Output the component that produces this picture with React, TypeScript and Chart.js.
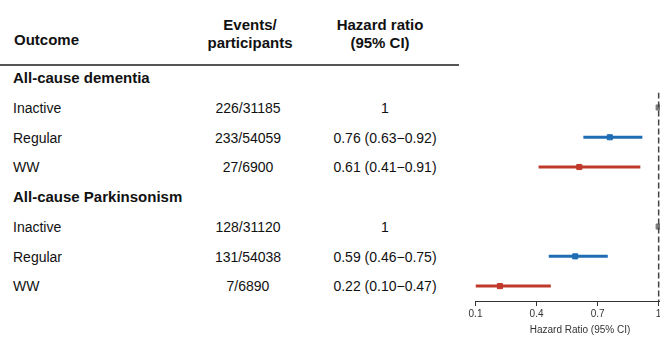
import React, { useEffect, useRef } from "react";
import { Chart, registerables } from "chart.js";

Chart.register(...registerables);

// ---- data ----
const groupNames = ["All-cause dementia", "All-cause Parkinsonism"];
const groupRows = [0, 4];
const rowLabels = ["Inactive", "Regular", "WW", "Inactive", "Regular", "WW"];
const rowPositions = [1, 2, 3, 5, 6, 7];
const eventsText = ["226/31185", "233/54059", "27/6900", "128/31120", "131/54038", "7/6890"];
const hrText = ["1", "0.76 (0.63\u22120.92)", "0.61 (0.41\u22120.91)", "1", "0.59 (0.46\u22120.75)", "0.22 (0.10\u22120.47)"];
const hrValue = [1, 0.76, 0.61, 1, 0.59, 0.22];
const hrLower = [1, 0.63, 0.41, 1, 0.46, 0.1];
const hrUpper = [1, 0.92, 0.91, 1, 0.75, 0.47];
const tickValues = [0.1, 0.4, 0.7, 1];
const tickLabels = ["0.1", "0.4", "0.7", "1"];
const referenceHR = 1;

const colorFor: Record<string, string> = {
  Inactive: "#7b7b7b",
  Regular: "#1f6db4",
  WW: "#c03a2b",
};

const FONT = "'Liberation Sans', Arial, Helvetica, sans-serif";
const ROW_SPACING = 29.75;
const ROW0_Y = 78;

function rowY(pos: number) {
  return ROW0_Y + pos * ROW_SPACING;
}

function Text(props: {
  text: string;
  x: number;
  y: number;
  align?: "left" | "center";
  bold?: boolean;
  size?: number;
}) {
  const { text, x, y, align = "left", bold = false, size = 14 } = props;
  const lh = 20;
  const style: React.CSSProperties = {
    position: "absolute",
    top: y - lh / 2,
    lineHeight: lh + "px",
    height: lh,
    fontFamily: FONT,
    fontSize: size,
    fontWeight: bold ? 700 : 400,
    color: "#111",
    whiteSpace: "nowrap",
  };
  if (align === "center") {
    style.left = x - 150;
    style.width = 300;
    style.textAlign = "center";
  } else {
    style.left = x;
  }
  return <div style={style}>{text}</div>;
}

export default function App() {
  const canvasRef = useRef<HTMLCanvasElement | null>(null);

  useEffect(() => {
    const canvas = canvasRef.current;
    if (!canvas) return;

    const datasets: any[] = [];
    rowLabels.forEach((label, i) => {
      const c = colorFor[label];
      if (hrLower[i] !== hrUpper[i]) {
        datasets.push({
          type: "line",
          data: [
            { x: hrLower[i], y: rowPositions[i] },
            { x: hrUpper[i], y: rowPositions[i] },
          ],
          borderColor: c,
          borderWidth: 3,
          pointRadius: 0,
          showLine: true,
          order: 2,
        });
      }
      datasets.push({
        type: "scatter",
        data: [{ x: hrValue[i], y: rowPositions[i] }],
        backgroundColor: c,
        borderColor: c,
        borderWidth: 1,
        pointStyle: "rect",
        pointRadius: 3.6,
        order: 1,
      });
    });
    datasets.push({
      type: "line",
      data: [
        { x: referenceHR, y: 0.5 },
        { x: referenceHR, y: 7.5 },
      ],
      borderColor: "#444",
      borderWidth: 1.5,
      borderDash: [6, 3],
      pointRadius: 0,
      showLine: true,
      order: -1,
    });

    const chart = new Chart(canvas, {
      type: "scatter",
      data: { datasets },
      options: {
        animation: false,
        responsive: false,
        devicePixelRatio: 1,
        events: [],
        layout: { padding: { left: 35.5, right: 55.5, top: 92.6, bottom: 0 } },
        plugins: { legend: { display: false }, tooltip: { enabled: false } },
        scales: {
          x: {
            type: "linear",
            min: 0.1,
            max: 1.127,
            afterBuildTicks: (scale: any) => {
              scale.ticks = tickValues.map((v) => ({ value: v }));
            },
            afterFit: (scale: any) => {
              scale.height = 36;
            },
            ticks: {
              autoSkip: false,
              maxRotation: 0,
              padding: 2,
              color: "#333",
              font: { family: FONT, size: 10 },
              callback: (v: any) => {
                const idx = tickValues.findIndex((t) => Math.abs(t - Number(v)) < 1e-9);
                return idx >= 0 ? tickLabels[idx] : "";
              },
            },
            grid: {
              display: true,
              drawOnChartArea: false,
              drawTicks: true,
              tickLength: 5,
              color: "#333",
            },
            border: { display: true, color: "#333", width: 1 },
            title: {
              display: true,
              text: "Hazard Ratio (95% CI)",
              color: "#333",
              font: { family: FONT, size: 10 },
              padding: { top: 0, bottom: 1 },
            },
          },
          y: {
            type: "linear",
            min: 0.5,
            max: 7.5,
            reverse: true,
            display: false,
          },
        },
      },
    });
    return () => chart.destroy();
  }, []);

  return (
    <div
      style={{
        position: "fixed",
        left: 0,
        top: 0,
        width: 660,
        height: 337,
        overflow: "hidden",
        background: "#fff",
      }}
    >
      <Text text="Outcome" x={14} y={40} bold size={15} />
      <Text text="Events/" x={250} y={25} align="center" bold size={15} />
      <Text text="participants" x={250} y={43} align="center" bold size={15} />
      <Text text="Hazard ratio" x={380} y={25} align="center" bold size={15} />
      <Text text="(95% CI)" x={380} y={43} align="center" bold size={15} />
      <div
        style={{
          position: "absolute",
          left: 0,
          top: 64,
          width: 459,
          height: 2,
          background: "#555",
        }}
      />
      {groupNames.map((g, i) => (
        <Text key={"g" + i} text={g} x={13} y={rowY(groupRows[i])} bold size={15} />
      ))}
      {rowLabels.map((label, i) => (
        <React.Fragment key={"r" + i}>
          <Text text={label} x={13} y={rowY(rowPositions[i])} />
          <Text text={eventsText[i]} x={248} y={rowY(rowPositions[i])} align="center" />
          <Text text={hrText[i]} x={385} y={rowY(rowPositions[i])} align="center" />
        </React.Fragment>
      ))}
      <canvas
        ref={canvasRef}
        width={300}
        height={337}
        style={{ position: "absolute", left: 440, top: 0, width: 300, height: 337 }}
      />
    </div>
  );
}
